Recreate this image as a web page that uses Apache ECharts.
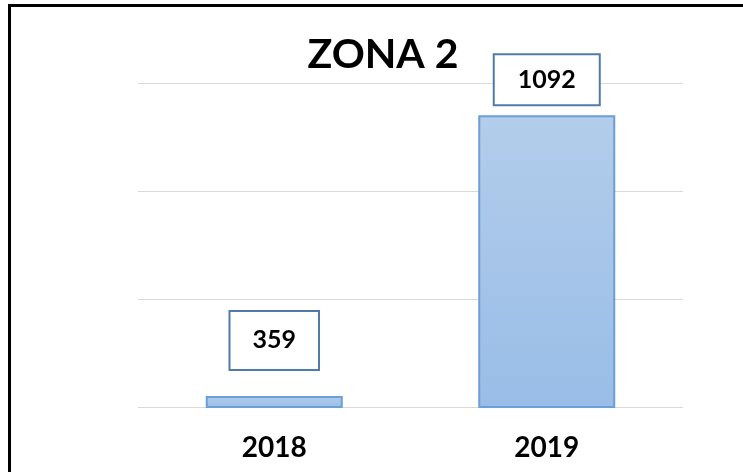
<!DOCTYPE html>
<html>
<head>
<meta charset="utf-8">
<script src="https://cdn.jsdelivr.net/npm/echarts@6/dist/echarts.min.js"></script>
<style>
  html, body { margin: 0; padding: 0; background: #fff; }
  #wrap { position: relative; width: 743px; height: 472px; overflow: hidden; }
  #chart { position: absolute; left: 0; top: 0; width: 743px; height: 472px; }
  /* black frame, only top and left edges are visible in the crop */
  #frame { position: absolute; left: 8px; top: 4px; width: 800px; height: 600px;
           border-top: 3px solid #000; border-left: 3px solid #000; pointer-events: none; }
</style>
</head>
<body>
<div id="wrap">
  <div id="chart"></div>
  <div id="frame"></div>
</div>
<script>
// data
var titleText = 'ZONA 2';
var years = ['2018', '2019'];
var values = [359, 1092];

// value axis range (the original chart does not start at zero)
var axisMin = 330;
var axisStep = 282;
var axisMax = axisMin + axisStep * 3;

// hand-placed label boxes, as in the original
var labelStyles = [
  { padding: [16, 22, 16, 22], distance: 27 },
  { padding: [12, 23, 12, 23], distance: 11 }
];

var myChart = echarts.init(document.getElementById('chart'));

var barData = values.map(function (v, i) {
  var s = labelStyles[i];
  return {
    value: v,
    label: { padding: s.padding, distance: s.distance }
  };
});

var option = {
  animation: false,
  title: {
    text: titleText,
    left: 378,
    top: 29,
    textAlign: 'center',
    textStyle: { fontFamily: 'Lato', fontWeight: 'bold', fontSize: 41, color: '#000' }
  },
  grid: { left: 138, right: 60, top: 83, bottom: 65 },
  xAxis: {
    type: 'category',
    data: years,
    axisLine: { show: false },
    axisTick: { show: false },
    axisLabel: {
      margin: 27,
      fontFamily: 'Lato', fontWeight: 'bold', fontSize: 28, color: '#000'
    }
  },
  yAxis: {
    type: 'value',
    min: axisMin,
    max: axisMax,
    interval: axisStep,
    axisLabel: { show: false },
    axisLine: { show: false },
    axisTick: { show: false },
    splitLine: { lineStyle: { color: '#d9d9d9', width: 1 } }
  },
  series: [{
    type: 'bar',
    data: barData,
    barWidth: 137,
    itemStyle: {
      color: new echarts.graphic.LinearGradient(0, 0, 0, 1, [
        { offset: 0, color: '#b3cdeb' },
        { offset: 1, color: '#99bde7' }
      ]),
      borderColor: '#6a9fd8',
      borderWidth: 2
    },
    label: {
      show: true,
      position: 'top',
      fontFamily: 'Lato', fontWeight: 'bold', fontSize: 25, color: '#000',
      backgroundColor: '#fff',
      borderColor: '#4f7bab',
      borderWidth: 2
    }
  }]
};

myChart.setOption(option);
</script>
</body>
</html>
